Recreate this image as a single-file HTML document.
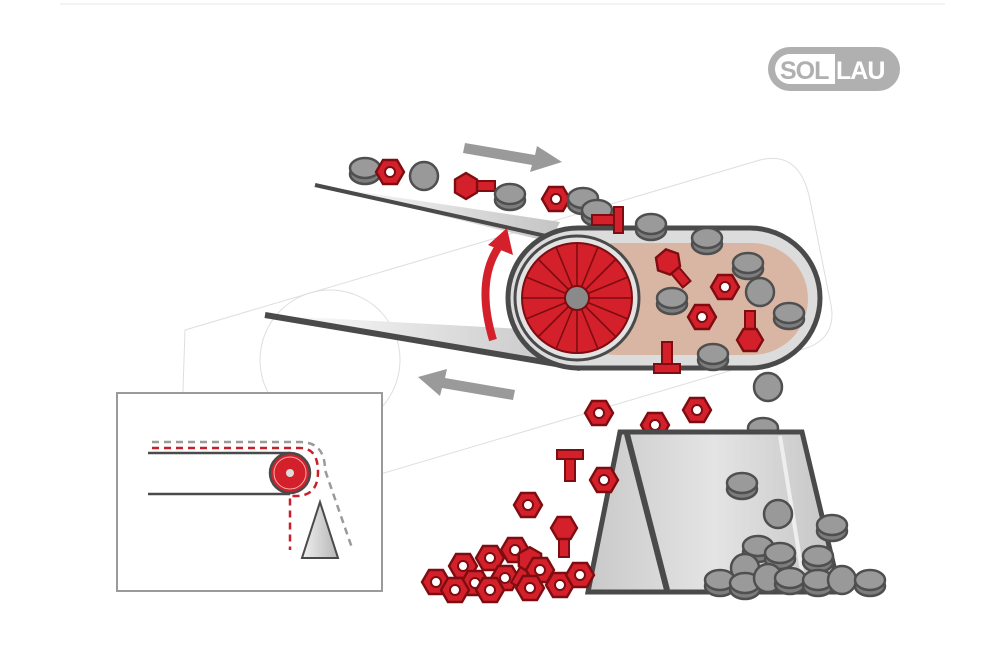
<!DOCTYPE html>
<html><head><meta charset="utf-8"><style>
html,body{margin:0;padding:0;background:#fff;}
svg{display:block;}
</style></head><body>
<svg width="1000" height="666" viewBox="0 0 1000 666" xmlns="http://www.w3.org/2000/svg">
<defs>
  <linearGradient id="belt" x1="0" y1="0" x2="1" y2="0">
    <stop offset="0" stop-color="#ffffff"/><stop offset="1" stop-color="#c4c4c4"/>
  </linearGradient>
  <linearGradient id="hop" x1="0" y1="0" x2="1" y2="0">
    <stop offset="0" stop-color="#c9c9c9"/><stop offset="0.5" stop-color="#e4e4e4"/><stop offset="1" stop-color="#c4c4c4"/>
  </linearGradient>
  <linearGradient id="cone" x1="0" y1="0" x2="1" y2="0">
    <stop offset="0" stop-color="#f0f0f0"/><stop offset="1" stop-color="#b5b5b5"/>
  </linearGradient>
  <g id="puck">
    <ellipse cx="0" cy="4" rx="15" ry="10" fill="#7d7d7d" stroke="#4f4f4f" stroke-width="2.5"/>
    <ellipse cx="0" cy="-2" rx="15" ry="10" fill="#9a9a9a" stroke="#4f4f4f" stroke-width="2.5"/>
  </g>
  <g id="ball"><circle r="14" fill="#999" stroke="#4f4f4f" stroke-width="2.5"/></g>
  <g id="nut">
    <polygon points="14,0 7,12 -7,12 -14,0 -7,-12 7,-12" fill="#d3202a" stroke="#7e0c10" stroke-width="2.4"/>
    <circle r="5" fill="#fff" stroke="#7e0c10" stroke-width="2"/>
  </g>
  <g id="bolt">
    <rect x="-5" y="5" width="10" height="24" fill="#d3202a" stroke="#7e0c10" stroke-width="2"/>
    <polygon points="13,0 6.5,11 -6.5,11 -13,0 -6.5,-11 6.5,-11" fill="#d3202a" stroke="#7e0c10" stroke-width="2.4"/>
  </g>
  <g id="tb">
    <rect x="-13" y="-5" width="26" height="9" fill="#d3202a" stroke="#7e0c10" stroke-width="2"/>
    <rect x="-5" y="4" width="10" height="22" fill="#d3202a" stroke="#7e0c10" stroke-width="2"/>
  </g>
</defs>

<line x1="60" y1="4" x2="945" y2="4" stroke="#f3f3f3" stroke-width="2"/>

<!-- watermark faint -->
<g fill="none" stroke="#dedede" stroke-width="1">
  <path d="M185 330 L760 160 Q800 150 810 200 L830 300 Q840 340 800 350 L225 520 Q185 530 180 480 Z"/>
  <circle cx="330" cy="360" r="70"/>
</g>

<!-- logo -->
<rect x="768" y="47" width="132" height="44" rx="22" fill="#b0b0b0"/>
<rect x="775" y="54" width="118" height="30" rx="15" fill="#fff"/>
<rect x="835" y="54" width="58" height="30" fill="#b0b0b0"/>
<text x="780" y="79" font-family="Liberation Sans, sans-serif" font-weight="bold" font-size="25" fill="#b0b0b0" letter-spacing="-1">SOL</text>
<text x="836" y="79" font-family="Liberation Sans, sans-serif" font-weight="bold" font-size="25" fill="#fff" letter-spacing="-1">LAU</text>

<!-- upper belt wedge -->
<polygon points="315,185 560,222 550,242" fill="url(#belt)"/>
<line x1="315" y1="185" x2="555" y2="238" stroke="#4a4a4a" stroke-width="4"/>
<!-- lower belt wedge -->
<polygon points="265,315 540,330 580,370" fill="url(#belt)"/>
<line x1="265" y1="315" x2="580" y2="368" stroke="#4a4a4a" stroke-width="6"/>

<!-- capsule -->
<rect x="508" y="228" width="312" height="140" rx="70" fill="#dcdcdc" stroke="#4a4a4a" stroke-width="5"/>
<rect x="560" y="243" width="248" height="112" rx="56" fill="#d9b6a4"/>
<circle cx="577" cy="298" r="62" fill="#e3e3e3" stroke="#4a4a4a" stroke-width="3"/>
<circle cx="577" cy="298" r="55" fill="#d3202a" stroke="#7e0c10" stroke-width="2"/>
<g stroke="#7e0c10" stroke-width="1.6">
  <line x1="522" y1="298" x2="632" y2="298"/><line x1="577" y1="243" x2="577" y2="353"/>
  <line x1="538" y1="259" x2="616" y2="337"/><line x1="616" y1="259" x2="538" y2="337"/>
  <line x1="526" y1="277" x2="628" y2="319"/><line x1="526" y1="319" x2="628" y2="277"/>
  <line x1="556" y1="247" x2="598" y2="349"/><line x1="598" y1="247" x2="556" y2="349"/>
</g>
<circle cx="577" cy="298" r="12" fill="#8a8a8a" stroke="#7e0c10" stroke-width="2"/>

<!-- arrows -->
<polygon points="465,143 535,155 537,146 562,162 530,172 532,165 463,153" fill="#9a9a9a"/>
<polygon points="515,390 445,378 447,369 418,377 440,396 442,388 513,400" fill="#9a9a9a"/>
<path d="M493 340 Q475 280 500 245" fill="none" stroke="#d3202a" stroke-width="8"/>
<polygon points="488,245 507,228 513,255" fill="#d3202a"/>

<!-- objects on belt -->
<use href="#puck" x="365" y="170"/>
<use href="#nut" x="390" y="172"/>
<use href="#ball" x="424" y="176"/>
<g transform="translate(466,186) rotate(-90)"><use href="#bolt"/></g>
<use href="#puck" x="510" y="196"/>
<use href="#nut" x="556" y="199"/>
<use href="#puck" x="583" y="200"/>
<use href="#puck" x="597" y="212"/>
<g transform="translate(618,220) rotate(90)"><use href="#tb"/></g>
<use href="#puck" x="651" y="226"/>
<use href="#puck" x="707" y="240"/>
<g transform="translate(668,262) rotate(-40)"><use href="#bolt"/></g>
<use href="#puck" x="748" y="265"/>
<use href="#nut" x="725" y="287"/>
<use href="#ball" x="760" y="292"/>
<use href="#puck" x="672" y="300"/>
<use href="#nut" x="702" y="317"/>
<use href="#puck" x="789" y="315"/>
<g transform="translate(750,340) rotate(180)"><use href="#bolt"/></g>
<use href="#puck" x="713" y="356"/>
<g transform="translate(667,368) rotate(180)"><use href="#tb"/></g>
<use href="#ball" x="768" y="387"/>
<use href="#nut" x="599" y="413"/>
<use href="#nut" x="697" y="410"/>
<use href="#nut" x="655" y="425"/>
<use href="#puck" x="763" y="430"/>
<use href="#tb" x="570" y="455"/>

<!-- hopper -->
<polygon points="620,432 802,432 840,592 588,592" fill="url(#hop)" stroke="#4a4a4a" stroke-width="5"/>
<line x1="627" y1="434" x2="667" y2="590" stroke="#4a4a4a" stroke-width="6"/>
<line x1="780" y1="436" x2="805" y2="590" stroke="#eee" stroke-width="4"/>
<use href="#puck" x="742" y="485"/>
<use href="#ball" x="778" y="514"/>
<use href="#puck" x="832" y="527"/>

<!-- red pile -->
<use href="#nut" x="528" y="505"/>
<use href="#nut" x="604" y="480"/>
<g transform="translate(564,528)"><use href="#bolt"/></g>
<use href="#nut" x="463" y="566"/>
<use href="#nut" x="490" y="558"/>
<use href="#nut" x="515" y="550"/>
<use href="#nut" x="436" y="582"/>
<use href="#nut" x="475" y="583"/>
<use href="#nut" x="505" y="578"/>
<g transform="translate(530,560) rotate(30)"><use href="#bolt"/></g>
<use href="#nut" x="540" y="570"/>
<use href="#nut" x="560" y="585"/>
<use href="#nut" x="530" y="588"/>
<use href="#nut" x="580" y="575"/>
<use href="#nut" x="455" y="590"/>
<use href="#nut" x="490" y="590"/>

<!-- gray pile -->
<use href="#puck" x="758" y="548"/>
<use href="#puck" x="780" y="555"/>
<use href="#puck" x="818" y="558"/>
<use href="#ball" x="745" y="568"/>
<use href="#puck" x="720" y="582"/>
<use href="#puck" x="745" y="585"/>
<use href="#ball" x="768" y="578"/>
<use href="#puck" x="790" y="580"/>
<use href="#puck" x="818" y="582"/>
<use href="#ball" x="842" y="580"/>
<use href="#puck" x="870" y="582"/>

<!-- inset -->
<rect x="117" y="393" width="265" height="198" fill="#fff" stroke="#9a9a9a" stroke-width="2"/>
<line x1="148" y1="453" x2="290" y2="453" stroke="#4a4a4a" stroke-width="2.5"/>
<line x1="148" y1="494" x2="290" y2="494" stroke="#4a4a4a" stroke-width="2.5"/>
<circle cx="290" cy="473" r="20" fill="#d3202a" stroke="#4a4a4a" stroke-width="2.5"/>
<circle cx="290" cy="473" r="16" fill="none" stroke="#f3b0b0" stroke-width="1"/>
<circle cx="290" cy="473" r="4" fill="#ddd"/>
<path d="M152 442 H300 Q325 442 325 470 L352 548" fill="none" stroke="#9a9a9a" stroke-width="2.5" stroke-dasharray="7 5"/>
<path d="M152 448 H300 Q318 448 318 472 Q318 496 296 496 H290 V550" fill="none" stroke="#c8202a" stroke-width="2.5" stroke-dasharray="7 5"/>
<polygon points="320,502 338,558 302,558" fill="url(#cone)" stroke="#4a4a4a" stroke-width="2"/>
</svg>
</body></html>
